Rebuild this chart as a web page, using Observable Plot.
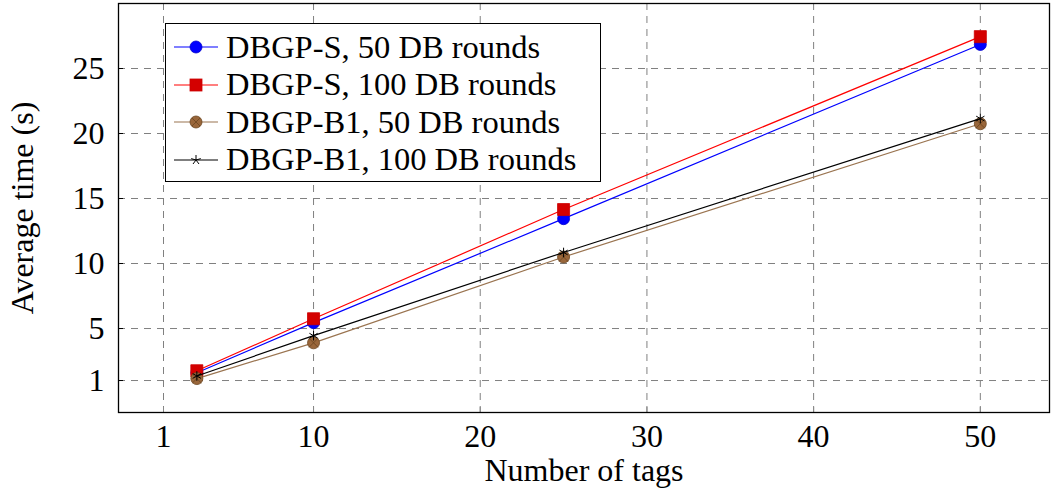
<!DOCTYPE html>
<html>
<head>
<meta charset="utf-8">
<script src="https://cdn.jsdelivr.net/npm/d3@7"></script>
<script src="https://cdn.jsdelivr.net/npm/@observablehq/plot@0.6"></script>
<style>
  html, body { margin: 0; padding: 0; background: #fff; }
  #wrap { position: relative; width: 1052px; height: 496px; font-family: "Liberation Serif", serif; }
  #legend { position: absolute; left: 165px; top: 23px; width: 436px; height: 159px; border: 1.3px solid #000; background: #fff; box-sizing: border-box; }
  .row { position: absolute; left: 0; height: 38px; display: flex; align-items: center; font-size: 32.5px; white-space: nowrap; }
  .row svg { margin-left: 8px; margin-right: 8px; }
</style>
</head>
<body>
<div id="wrap"></div>
<script>
const tags = [3, 10, 25, 50];
const seriesNames = ["DBGP-S, 50 DB rounds", "DBGP-S, 100 DB rounds", "DBGP-B1, 50 DB rounds", "DBGP-B1, 100 DB rounds"];
const dbgpS50 = [1.6, 5.45, 13.45, 26.85];
const dbgpS100 = [1.75, 5.75, 14.15, 27.45];
const dbgpB150 = [1.15, 3.9, 10.5, 20.75];
const dbgpB1100 = [1.35, 4.45, 10.85, 21.15];
const xTicks = [1, 10, 20, 30, 40, 50];
const yTicks = [1, 5, 10, 15, 20, 25];

const seriesValues = [dbgpS50, dbgpS100, dbgpB150, dbgpB1100];
const lineColors = ["#0000ff", "#ff0000", "#9a7450", "#000000"];
const data = [];
seriesNames.forEach((s, i) => tags.forEach((t, j) => data.push({series: s, idx: i, x: t, y: seriesValues[i][j]})));
const of = i => data.filter(d => d.idx === i);

const font = "Liberation Serif, serif";
const chart = Plot.plot({
  width: 1052,
  height: 496,
  marginLeft: 118,
  marginRight: 3,
  marginTop: 3,
  marginBottom: 84,
  style: {fontFamily: font, fontSize: "32px", color: "#000", background: "#fff"},
  x: {domain: [-1.7, 54.15]},
  y: {domain: [-1.46, 30]},
  marks: [
    Plot.gridX(xTicks, {stroke: "#808080", strokeOpacity: 1, strokeDasharray: "7,6", strokeWidth: 1}),
    Plot.gridY(yTicks, {stroke: "#808080", strokeOpacity: 1, strokeDasharray: "7,6", strokeWidth: 1}),
    Plot.axisX(xTicks, {tickSize: -5, tickPadding: 17, fontSize: 32, label: "Number of tags", labelAnchor: "center", labelArrow: "none", labelOffset: 68, stroke: null}),
    Plot.axisX(xTicks, {tickSize: -5, text: null, label: null, stroke: "#888"}),
    Plot.axisY(yTicks, {tickSize: -5, tickPadding: 19, fontSize: 32, label: "Average time (s)", labelAnchor: "center", labelArrow: "none", labelOffset: 108}),
    Plot.line(of(0), {x: "x", y: "y", stroke: lineColors[0], strokeWidth: 1.2}),
    Plot.dot(of(0), {x: "x", y: "y", r: 6, symbol: "circle", fill: "#0000ff", stroke: "#0000cc", strokeWidth: 0.8}),
    Plot.line(of(1), {x: "x", y: "y", stroke: lineColors[1], strokeWidth: 1.2}),
    Plot.dot(of(1), {x: "x", y: "y", r: 6.8, symbol: "square", fill: "#d40000", stroke: "#cc0000", strokeWidth: 0.8}),
    Plot.line(of(2), {x: "x", y: "y", stroke: lineColors[2], strokeWidth: 1.2}),
    Plot.dot(of(2), {x: "x", y: "y", r: 6, symbol: "circle", fill: "#99663a", stroke: "#6b4520", strokeWidth: 0.8}),
    Plot.dot(of(2), {x: "x", y: "y", r: 4.2, symbol: "times", stroke: "#6b4520", strokeWidth: 0.8}),
    Plot.line(of(3), {x: "x", y: "y", stroke: lineColors[3], strokeWidth: 1.2}),
    Plot.dot(of(3), {x: "x", y: "y", r: 4.5, symbol: "asterisk", stroke: "#000", strokeWidth: 1}),
    Plot.frame({stroke: "#000", strokeWidth: 1.3})
  ]
});
const wrap = document.getElementById("wrap");
wrap.appendChild(chart);

// legend
const swatch = [
  `<circle cx="22" cy="10" r="6" fill="#0000ff" stroke="#0000cc" stroke-width="0.8"/>`,
  `<rect x="16" y="4" width="12" height="12" fill="#d40000" stroke="#cc0000" stroke-width="0.8"/>`,
  `<circle cx="22" cy="10" r="6" fill="#99663a" stroke="#6b4520" stroke-width="0.8"/><path d="M18,6L26,14M26,6L18,14" stroke="#6b4520" stroke-width="0.8"/>`,
  `<path d="M22,5V10.5M22,10L17.2,8.6M22,10L26.8,8.6M22,10L19,14M22,10L25,14" stroke="#000" stroke-width="1" fill="none"/>`
];
const legend = document.createElement("div");
legend.id = "legend";
seriesNames.forEach((s, i) => {
  const row = document.createElement("div");
  row.className = "row";
  row.style.top = (4 + i * 37.5) + "px";
  row.innerHTML = `<svg width="44" height="20" viewBox="0 0 44 20"><line x1="0" y1="10" x2="44" y2="10" stroke="${lineColors[i]}" stroke-width="1.2"/>${swatch[i]}</svg><span>${s}</span>`;
  legend.appendChild(row);
});
wrap.appendChild(legend);
</script>
</body>
</html>
